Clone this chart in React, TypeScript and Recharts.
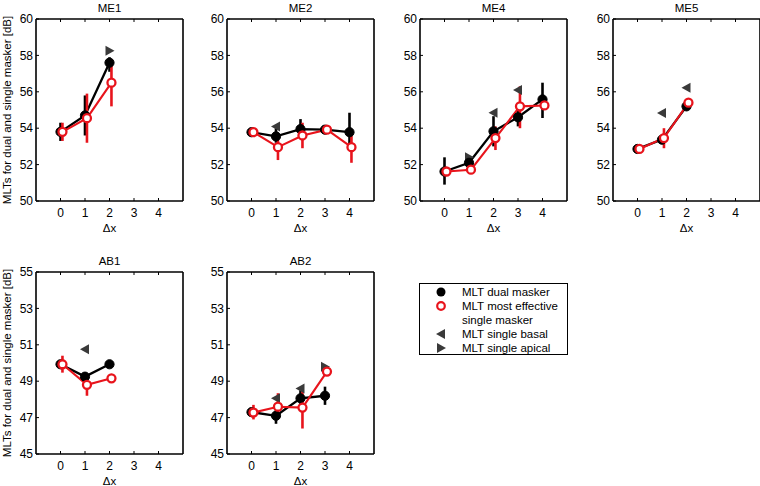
import React from "react";
import { ComposedChart, Line, Scatter, XAxis, YAxis, ErrorBar } from "recharts";

// spacing between maskers
const dx = [0, 1, 2, 3, 4];
const xTicks = [0, 1, 2, 3, 4];
const meTicks = [50, 52, 54, 56, 58, 60];
const abTicks = [45, 47, 49, 51, 53, 55];
// the red series is drawn slightly to the right of the black one
const redShift = 0.08;

// ME1
const me1Dual = [53.8, 54.7, 57.6];
const me1DualLo = [53.3, 53.6, 57.1];
const me1DualHi = [54.3, 55.8, 57.9];
const me1Red = [53.8, 54.55, 56.5];
const me1RedLo = [53.3, 53.2, 55.2];
const me1RedHi = [54.3, 55.9, 57.8];
const me1Basal = [null, null, null];
const me1Apical = [null, null, 58.25];

// ME2
const me2Dual = [53.78, 53.55, 53.95, 53.92, 53.78];
const me2DualLo = [53.6, 53.2, 53.4, 53.8, 53.0];
const me2DualHi = [53.9, 54.0, 54.5, 54.05, 54.85];
const me2Red = [53.78, 52.96, 53.6, 53.92, 52.96];
const me2RedLo = [53.6, 52.25, 52.9, 53.8, 52.1];
const me2RedHi = [53.9, 53.6, 54.3, 54.05, 53.6];
const me2Basal = [null, 54.1, null, null, null];
const me2Apical = [null, null, null, null, null];

// ME4
const me4Dual = [51.62, 52.1, 53.83, 54.6, 55.58];
const me4DualLo = [50.9, 51.9, 53.0, 54.1, 54.56];
const me4DualHi = [52.4, 52.3, 54.66, 55.2, 56.5];
const me4Red = [51.62, 51.72, 53.46, 55.2, 55.25];
const me4RedLo = [51.5, 51.6, 52.8, 54.0, 55.1];
const me4RedHi = [51.75, 51.85, 54.1, 56.3, 55.4];
const me4Basal = [null, null, 54.85, 56.1, null];
const me4Apical = [null, 52.4, null, null, null];

// ME5
const me5Dual = [52.86, 53.37, 55.2];
const me5DualLo = [52.8, 53.2, 55.1];
const me5DualHi = [52.95, 53.5, 55.3];
const me5Red = [52.86, 53.46, 55.4];
const me5RedLo = [52.8, 52.9, 55.3];
const me5RedHi = [52.95, 54.0, 55.5];
const me5Basal = [null, 54.84, 56.22];
const me5Apical = [null, null, null];

// AB1
const ab1Dual = [49.93, 49.25, 49.93];
const ab1DualLo = [49.85, 49.15, 49.85];
const ab1DualHi = [50.0, 49.35, 50.0];
const ab1Red = [49.93, 48.8, 49.16];
const ab1RedLo = [49.47, 48.2, 49.1];
const ab1RedHi = [50.4, 49.25, 49.25];
const ab1Basal = [null, 50.75, null];
const ab1Apical = [null, null, null];

// AB2
const ab2Dual = [47.3, 47.1, 48.06, 48.2];
const ab2DualLo = [47.1, 46.66, 47.7, 47.7];
const ab2DualHi = [47.5, 47.5, 48.5, 48.7];
const ab2Red = [47.28, 47.6, 47.55, 49.53];
const ab2RedLo = [46.9, 47.0, 46.4, 49.4];
const ab2RedHi = [47.7, 48.34, 48.5, 49.7];
const ab2Basal = [null, 48.06, 48.6, null];
const ab2Apical = [null, null, null, 49.8];

const RED = "#e8141c";
const GREY = "#3a3a3a";
const FONT = "'Liberation Sans', Arial, sans-serif";
const PLOT_W = 147;
const PLOT_H = 182;
const AXIS_W = 36;

type Vals = (number | null)[];

interface PanelProps {
  title: string;
  left: number;
  top: number;
  ticks: number[];
  dual: number[];
  dualLo: number[];
  dualHi: number[];
  red: number[];
  redLo: number[];
  redHi: number[];
  basal: Vals;
  apical: Vals;
}

function LeftTri(props: any) {
  const { cx, cy } = props;
  return <path d={`M${cx - 5},${cy} L${cx + 4},${cy - 5} L${cx + 4},${cy + 5} Z`} fill={GREY} />;
}

function RightTri(props: any) {
  const { cx, cy } = props;
  return <path d={`M${cx + 5},${cy} L${cx - 4},${cy - 5} L${cx - 4},${cy + 5} Z`} fill={GREY} />;
}

function toPoints(vals: Vals) {
  return vals
    .map((v, i) => (v == null ? null : { x: dx[i], y: v }))
    .filter((p) => p !== null) as { x: number; y: number }[];
}

function Panel(p: PanelProps) {
  const dualRows = p.dual.map((d, i) => ({
    x: dx[i],
    dual: d,
    dualErr: [d - p.dualLo[i], p.dualHi[i] - d],
  }));
  const redRows = p.red.map((r, i) => ({
    x: dx[i] + redShift,
    red: r,
    redErr: [r - p.redLo[i], p.redHi[i] - r],
  }));
  const yDomain = [p.ticks[0], p.ticks[p.ticks.length - 1]];
  const tickStyle = { fill: "#000", fontSize: 12, fontFamily: FONT };
  const axisLine = { stroke: "#000", strokeWidth: 1.6 };

  return (
    <div style={{ position: "absolute", left: p.left - AXIS_W, top: p.top - 19 }}>
      <div
        style={{
          position: "absolute",
          left: AXIS_W,
          width: PLOT_W,
          top: 2,
          textAlign: "center",
          fontSize: 11.5,
          fontFamily: FONT,
        }}
      >
        {p.title}
      </div>
      <ComposedChart
        width={AXIS_W + PLOT_W + 6}
        height={240}
        data={dualRows}
        margin={{ top: 19, right: 6, left: 0, bottom: 0 }}
      >
        <XAxis
          dataKey="x"
          type="number"
          domain={[-1, 5]}
          ticks={xTicks}
          allowDataOverflow
          height={39}
          tick={tickStyle}
          tickSize={-3}
          tickMargin={10}
          tickLine={{ stroke: "#000" }}
          axisLine={axisLine}
          label={{ value: "Δx", position: "insideBottom", offset: 8, fill: "#000", fontSize: 11.5, fontFamily: FONT }}
        />
        <XAxis
          xAxisId="top"
          dataKey="x"
          type="number"
          orientation="top"
          mirror
          domain={[-1, 5]}
          ticks={xTicks}
          tickSize={3}
          tickFormatter={() => ""}
          tickLine={{ stroke: "#000" }}
          axisLine={axisLine}
        />
        <YAxis
          type="number"
          domain={yDomain}
          ticks={p.ticks}
          allowDataOverflow
          width={AXIS_W}
          tick={tickStyle}
          tickSize={-3}
          tickMargin={6}
          tickLine={{ stroke: "#000" }}
          axisLine={axisLine}
        />
        <YAxis
          yAxisId="right"
          type="number"
          orientation="right"
          mirror
          domain={yDomain}
          ticks={p.ticks}
          tickSize={3}
          tickFormatter={() => ""}
          tickLine={{ stroke: "#000" }}
          axisLine={axisLine}
        />
        <Scatter data={toPoints(p.basal)} dataKey="y" shape={LeftTri} isAnimationActive={false} />
        <Scatter data={toPoints(p.apical)} dataKey="y" shape={RightTri} isAnimationActive={false} />
        <Line
          dataKey="dual"
          stroke="#000"
          strokeWidth={2.3}
          dot={{ r: 4.6, fill: "#000", stroke: "#000", strokeWidth: 1 }}
          activeDot={false}
          isAnimationActive={false}
        >
          <ErrorBar dataKey="dualErr" direction="y" width={0} stroke="#000" strokeWidth={2.6} />
        </Line>
        <Line
          data={redRows}
          dataKey="red"
          stroke={RED}
          strokeWidth={2.1}
          dot={{ r: 4, fill: "#fff", stroke: RED, strokeWidth: 2.3 }}
          activeDot={false}
          isAnimationActive={false}
        >
          <ErrorBar dataKey="redErr" direction="y" width={0} stroke={RED} strokeWidth={2.6} />
        </Line>
      </ComposedChart>
    </div>
  );
}

function YLabel({ cy }: { cy: number }) {
  return (
    <div
      style={{
        position: "absolute",
        left: 7 - 120,
        top: cy - 7,
        width: 240,
        height: 14,
        lineHeight: "14px",
        textAlign: "center",
        fontSize: 11.5,
        fontFamily: FONT,
        transform: "rotate(-90deg)",
        whiteSpace: "nowrap",
      }}
    >
      MLTs for dual and single masker [dB]
    </div>
  );
}

const legendItems = [
  { key: "dual", text: "MLT dual masker" },
  { key: "red", text: "MLT most effective" },
  { key: "none", text: "single masker" },
  { key: "basal", text: "MLT single basal" },
  { key: "apical", text: "MLT single apical" },
];

function LegendMarker({ kind }: { kind: string }) {
  return (
    <svg width={14} height={14} style={{ position: "absolute", left: 14, top: 0 }}>
      {kind === "dual" && <circle cx={7} cy={7} r={4.5} fill="#000" />}
      {kind === "red" && <circle cx={7} cy={7} r={3.8} fill="#fff" stroke={RED} strokeWidth={2.2} />}
      {kind === "basal" && <path d="M2,7 L11,2 L11,12 Z" fill={GREY} />}
      {kind === "apical" && <path d="M12,7 L3,2 L3,12 Z" fill={GREY} />}
    </svg>
  );
}

function MLTLegend() {
  return (
    <div
      style={{
        position: "absolute",
        left: 419,
        top: 283,
        width: 147,
        height: 69,
        border: "1.5px solid #000",
        background: "#fff",
        fontFamily: FONT,
        fontSize: 11.5,
        paddingTop: 1,
      }}
    >
      {legendItems.map((it) => (
        <div key={it.text} style={{ position: "relative", height: 14, lineHeight: "14px" }}>
          <LegendMarker kind={it.key} />
          <span style={{ position: "absolute", left: 42, whiteSpace: "nowrap" }}>{it.text}</span>
        </div>
      ))}
    </div>
  );
}

export default function App() {
  return (
    <div
      style={{
        position: "absolute",
        left: 0,
        top: 0,
        width: 760,
        height: 486,
        overflow: "hidden",
        background: "#fff",
      }}
    >
      <Panel title="ME1" left={36} top={19} ticks={meTicks} dual={me1Dual} dualLo={me1DualLo} dualHi={me1DualHi} red={me1Red} redLo={me1RedLo} redHi={me1RedHi} basal={me1Basal} apical={me1Apical} />
      <Panel title="ME2" left={227} top={19} ticks={meTicks} dual={me2Dual} dualLo={me2DualLo} dualHi={me2DualHi} red={me2Red} redLo={me2RedLo} redHi={me2RedHi} basal={me2Basal} apical={me2Apical} />
      <Panel title="ME4" left={420} top={19} ticks={meTicks} dual={me4Dual} dualLo={me4DualLo} dualHi={me4DualHi} red={me4Red} redLo={me4RedLo} redHi={me4RedHi} basal={me4Basal} apical={me4Apical} />
      <Panel title="ME5" left={613} top={19} ticks={meTicks} dual={me5Dual} dualLo={me5DualLo} dualHi={me5DualHi} red={me5Red} redLo={me5RedLo} redHi={me5RedHi} basal={me5Basal} apical={me5Apical} />
      <Panel title="AB1" left={36} top={272} ticks={abTicks} dual={ab1Dual} dualLo={ab1DualLo} dualHi={ab1DualHi} red={ab1Red} redLo={ab1RedLo} redHi={ab1RedHi} basal={ab1Basal} apical={ab1Apical} />
      <Panel title="AB2" left={227} top={272} ticks={abTicks} dual={ab2Dual} dualLo={ab2DualLo} dualHi={ab2DualHi} red={ab2Red} redLo={ab2RedLo} redHi={ab2RedHi} basal={ab2Basal} apical={ab2Apical} />
      <YLabel cy={110} />
      <YLabel cy={363} />
      <MLTLegend />
    </div>
  );
}
